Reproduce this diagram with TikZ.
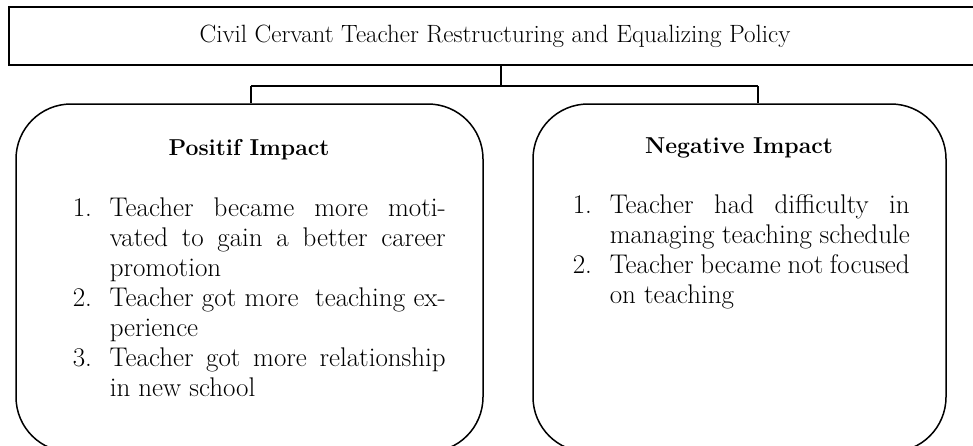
\documentclass[tikz,border=0pt]{standalone}
\usepackage{fontspec}
\usetikzlibrary{positioning}
\newcommand{\itm}[2]{\noindent\hangindent=37pt\hangafter=1\hbox to 37pt{#1\hfil}#2\par}
\begin{document}
\begin{tikzpicture}[x=1pt,y=-1pt,line width=1.5pt,
  policybox/.style={draw,rectangle,minimum width=984pt,minimum height=58pt,inner sep=0pt,font=\fontsize{25}{30}\selectfont},
  impactbox/.style={draw,rectangle,rounded corners=55pt,minimum height=348pt,inner sep=0pt},
  heading/.style={anchor=base,inner sep=0pt,font=\bfseries\fontsize{23}{30}\selectfont},
  itemlist/.style={anchor=north west,inner sep=0pt,align=justify,font=\fontsize{27}{30}\selectfont}]
\useasboundingbox (0,0) rectangle (973,445);
\clip (0,0) rectangle (973,445);
\node[policybox] (policy) at (501,36) {\hspace*{-12pt}Civil Cervant Teacher Restructuring and Equalizing Policy};
\node[impactbox,minimum width=467pt] (pos) at (249.5,278) {};
\node[impactbox,minimum width=413pt] (neg) at (739.5,278) {};
\coordinate (jl) at (251,86);
\coordinate (jr) at (758,86);
\draw (policy.south) -- (policy.south |- jl);
\draw (jl) -- (jr);
\draw (jl) -- (jl |- pos.north);
\draw (jr) -- (jr |- neg.north);
% headings
\node[heading] (posh) at (249,155) {Positif Impact};
\node[heading] (negh) at (739,153) {Negative Impact};
% lists
\node[itemlist,text width=373pt] (posl) at (72,197) {%
  \itm{1.}{Teacher became more moti-\linebreak vated to gain a better career\linebreak promotion}
  \itm{2.}{Teacher got more \ teaching ex-\linebreak perience}
  \itm{3.}{Teacher got more relationship\linebreak in new school}};
\node[itemlist,text width=337pt] (negl) at (572,194) {%
  \itm{1.}{Teacher had difficulty in\linebreak managing teaching schedule}
  \itm{2.}{Teacher became not focused\linebreak on teaching}};
\end{tikzpicture}
\end{document}
